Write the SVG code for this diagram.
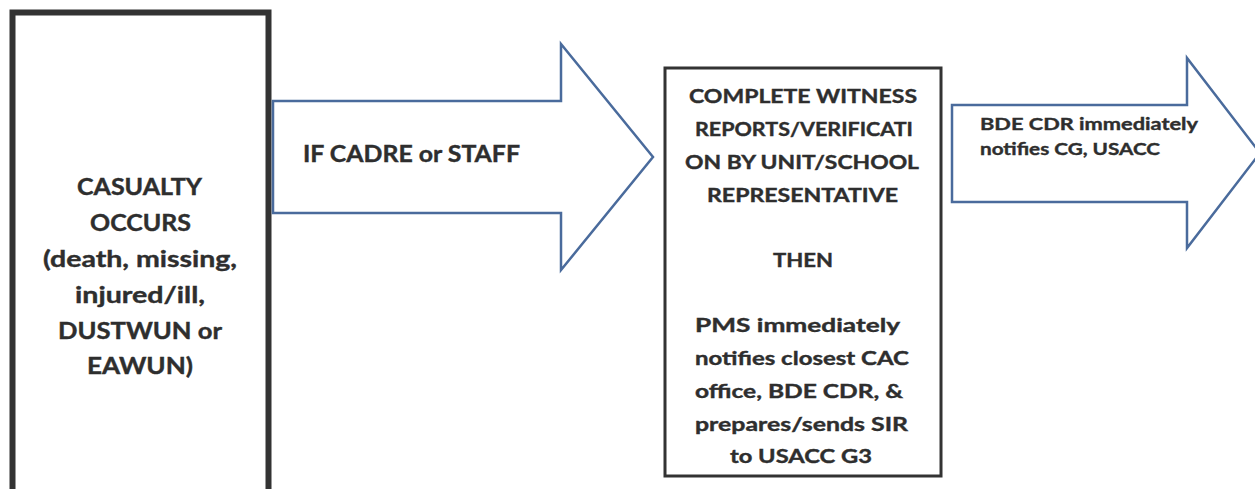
<svg xmlns="http://www.w3.org/2000/svg" width="1255" height="489" viewBox="0 0 1255 489">
<style>
.t{font-family:Lato,"Liberation Sans",sans-serif;font-weight:bold;fill:#2e2e2e;stroke:#2e2e2e;stroke-width:0.4;}
.arrow{fill:#ffffff;stroke:#4a6b9c;stroke-width:2.5;stroke-linejoin:miter;}
</style>
<rect width="1255" height="489" fill="#ffffff"/>
<g id="casualty">
<rect x="12.5" y="12.5" width="256" height="490" fill="#ffffff" stroke="#333333" stroke-width="6"/>
<g class="t" font-size="23">
<text x="77" y="195" textLength="125" lengthAdjust="spacingAndGlyphs">CASUALTY</text>
<text x="90" y="231" textLength="101" lengthAdjust="spacingAndGlyphs">OCCURS</text>
<text x="43" y="267" textLength="194" lengthAdjust="spacingAndGlyphs">(death, missing,</text>
<text x="75" y="303" textLength="130" lengthAdjust="spacingAndGlyphs">injured/ill,</text>
<text x="58" y="339" textLength="164" lengthAdjust="spacingAndGlyphs">DUSTWUN or</text>
<text x="87" y="374" textLength="106" lengthAdjust="spacingAndGlyphs">EAWUN)</text>
</g>
</g>
<g id="connectors">
<g id="arrow-cadre">
<polygon class="arrow" points="273,101 561,101 561,44 653,157 561,270 561,213 273,213"/>
<text class="t" font-size="23.5" x="303" y="162" textLength="217" lengthAdjust="spacingAndGlyphs">IF CADRE or STAFF</text>
</g>
<g id="arrow-bde">
<polygon class="arrow" points="952,105 1187,105 1187,58 1260,153 1187,248 1187,202 952,202"/>
<g class="t" font-size="17.6">
<text x="980" y="130" textLength="218" lengthAdjust="spacingAndGlyphs">BDE CDR immediately</text>
<text x="980" y="155" textLength="180" lengthAdjust="spacingAndGlyphs">notifies CG, USACC</text>
</g>
</g>
</g>
<g id="witness">
<rect x="665" y="68" width="276" height="408" fill="#ffffff" stroke="#333333" stroke-width="3"/>
<g class="t" font-size="19.5">
<text x="689" y="103" textLength="228" lengthAdjust="spacingAndGlyphs">COMPLETE WITNESS</text>
<text x="695" y="136" textLength="218" lengthAdjust="spacingAndGlyphs">REPORTS/VERIFICATI</text>
<text x="685" y="169" textLength="234" lengthAdjust="spacingAndGlyphs">ON BY UNIT/SCHOOL</text>
<text x="707" y="202" textLength="191" lengthAdjust="spacingAndGlyphs">REPRESENTATIVE</text>
<text x="773" y="267" textLength="60" lengthAdjust="spacingAndGlyphs">THEN</text>
<text x="695" y="332" textLength="205" lengthAdjust="spacingAndGlyphs">PMS immediately</text>
<text x="695" y="365" textLength="214" lengthAdjust="spacingAndGlyphs">notifies closest CAC</text>
<text x="695" y="398" textLength="208" lengthAdjust="spacingAndGlyphs">office, BDE CDR, &amp;</text>
<text x="695" y="431" textLength="213" lengthAdjust="spacingAndGlyphs">prepares/sends SIR</text>
<text x="730" y="463" textLength="142" lengthAdjust="spacingAndGlyphs">to USACC G3</text>
</g>
</g>
</svg>
